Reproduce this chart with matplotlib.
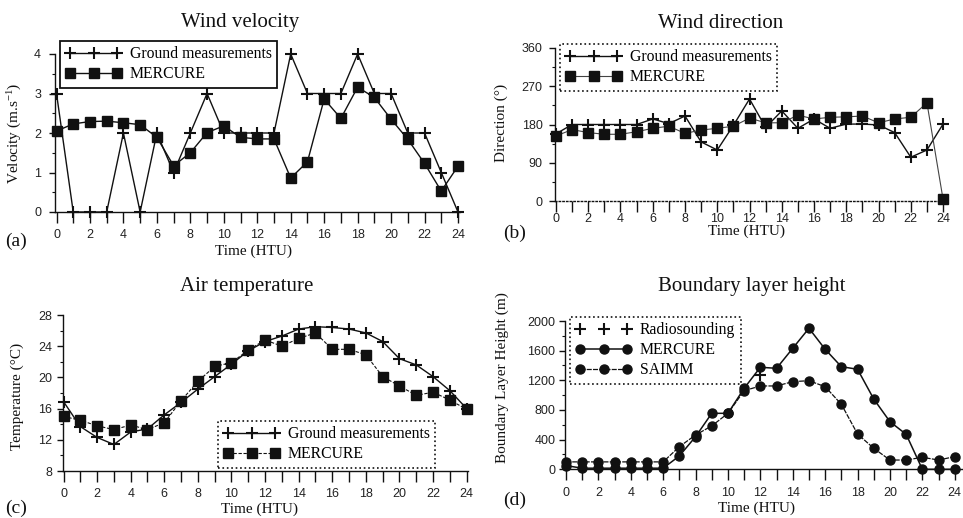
import matplotlib
matplotlib.use("Agg")
import matplotlib.pyplot as plt
from matplotlib.ticker import MultipleLocator, FuncFormatter

# ---- data -------------------------------------------------------------
hours = list(range(25))

vel_ground = [3, 0, 0, 0, 2, 0, 2, 1, 2, 3, 2, 2, 2, 2, 4, 3, 3, 3, 4, 3, 3, 2, 2, 1, 0]
vel_mercure = [2.05, 2.23, 2.29, 2.30, 2.26, 2.21, 1.89, 1.17, 1.50, 2.01, 2.18, 1.89, 1.85,
               1.85, 0.86, 1.27, 2.86, 2.37, 3.16, 2.90, 2.35, 1.84, 1.23, 0.53, 1.16]

dir_ground = [158, 180, 180, 180, 180, 180, 193, 182, 200, 139, 120, 178, 240, 173, 212,
              171, 193, 171, 181, 181, 179, 161, 103, 120, 181]
dir_mercure = [153, 168, 161, 157, 157, 163, 171, 176, 159, 167, 171, 176, 195, 184, 184,
               202, 193, 197, 198, 200, 184, 193, 197, 231, 4]

temp_ground = [16.9, 13.7, 12.3, 11.4, 13.0, 13.4, 15.2, 16.8, 18.5, 20.1, 21.7, 23.4, 24.6,
               25.3, 26.2, 26.5, 26.4, 26.2, 25.7, 24.6, 22.4, 21.6, 20.1, 18.3, 16.0]
temp_mercure = [15.0, 14.5, 13.8, 13.3, 13.9, 13.3, 14.2, 17.0, 19.5, 21.4, 21.9, 23.5, 24.8,
                24.0, 25.0, 25.7, 23.6, 23.6, 22.9, 20.1, 18.9, 17.7, 18.1, 17.1, 15.9]

blh_mercure = [50, 15, 15, 15, 15, 15, 15, 180, 440, 755, 755, 1093, 1376, 1362, 1632, 1902,
               1619, 1384, 1349, 948, 642, 472, 0, 0, 0]
blh_saimm = [100, 100, 100, 100, 100, 100, 100, 305, 463, 585, 755, 1060, 1124, 1124, 1182,
             1195, 1114, 877, 476, 283, 125, 125, 162, 125, 171]
rs_hours = [12]
rs_blh = [1270]

# ---- style ------------------------------------------------------------
W, H = 963, 518
SERIF = "Liberation Serif"
SANS = "Liberation Sans"
INK = "#111111"

plt.rcParams["mathtext.fontset"] = "custom"
plt.rcParams["mathtext.rm"] = SERIF
plt.rcParams["mathtext.it"] = SERIF + ":italic"
plt.rcParams["mathtext.default"] = "rm"

fig = plt.figure(figsize=(W / 100, H / 100), dpi=100)
fig.patch.set_facecolor("white")


def px_axes(left, right, top, bottom):
    return fig.add_axes([left / W, (H - bottom) / H, (right - left) / W, (bottom - top) / H])


def even_only(v, pos):
    iv = int(round(v))
    return str(iv) if iv % 2 == 0 else ""


def style_axes(ax, xlim, ylim, ymajor, yminor, xpad, ypad, bottom_ls="-"):
    ax.set_xlim(*xlim)
    ax.set_ylim(*ylim)
    for s in ("top", "right"):
        ax.spines[s].set_visible(False)
    for s in ("left", "bottom"):
        ax.spines[s].set_color(INK)
        ax.spines[s].set_linewidth(1.0)
    ax.spines["bottom"].set_linestyle(bottom_ls)
    ax.xaxis.set_major_locator(MultipleLocator(1))
    ax.xaxis.set_major_formatter(FuncFormatter(even_only))
    ax.yaxis.set_major_locator(MultipleLocator(ymajor))
    ax.yaxis.set_minor_locator(MultipleLocator(yminor))
    ax.tick_params(axis="x", which="major", direction="out", length=8, width=1.0,
                   color=INK, pad=xpad)
    ax.tick_params(axis="y", which="major", direction="out", length=4, width=1.0,
                   color=INK, pad=ypad)
    ax.tick_params(axis="y", which="minor", direction="out", length=2, width=0.8, color=INK)
    for lab in ax.get_xticklabels() + ax.get_yticklabels():
        lab.set_fontfamily(SANS)
        lab.set_fontsize(9)
        lab.set_color("#222222")


def set_labels(ax, xlabel, ylabel, xpos, ypos):
    ax.set_xlabel(xlabel, fontfamily=SERIF, fontsize=11, color=INK)
    ax.set_ylabel(ylabel, fontfamily=SERIF, fontsize=11, color=INK)
    ax.xaxis.set_label_coords(*xpos)
    ax.yaxis.set_label_coords(*ypos)
    ax.xaxis.label.set_va("center")
    ax.yaxis.label.set_va("center")


def legend(ax, anchor, dotted, **kw):
    leg = ax.legend(loc="upper left", bbox_to_anchor=(anchor[0] / W, 1 - anchor[1] / H),
                    bbox_transform=fig.transFigure, prop={"family": SERIF, "size": 11.3},
                    numpoints=3, handlelength=3.6, handletextpad=0.5, labelspacing=0.25,
                    borderpad=0.35, borderaxespad=0, fancybox=False, framealpha=1, **kw)
    fr = leg.get_frame()
    fr.set_edgecolor(INK)
    if dotted:
        fr.set_linestyle(":")
        fr.set_linewidth(1.2)
    else:
        fr.set_linewidth(1.3)
    return leg


plus_kw = dict(marker="+", markersize=8, markeredgewidth=1.5, color=INK, clip_on=False)
sq_kw = dict(marker="s", markersize=6.5, color=INK, markerfacecolor=INK, clip_on=False)
dot_kw = dict(marker="o", markersize=6.5, color=INK, markerfacecolor=INK, clip_on=False)

# ---- (a) wind velocity --------------------------------------------------
ax = px_axes(55, 460, 54, 212)
ax.plot(hours, vel_ground, lw=1.0, label="Ground measurements", **plus_kw)
ax.plot(hours, vel_mercure, lw=1.0, label="MERCURE", **sq_kw)
style_axes(ax, (-0.09, 24.12), (0, 4), 1, 0.5, xpad=4.5, ypad=6)
set_labels(ax, "Time (HTU)", "Velocity (m.s$^{-1}$)", (0.49, -0.25), (-0.1, 0.5))
legend(ax, (60, 41), dotted=False)
fig.text(240 / W, 1 - 23 / H, "Wind velocity", family=SERIF, fontsize=15,
         ha="center", va="center", color=INK)
fig.text(5 / W, 1 - 241 / H, "(a)", family=SERIF, fontsize=14, ha="left", va="center",
         color=INK)

# ---- (b) wind direction -------------------------------------------------
ax = px_axes(555, 945, 48, 201)
ax.plot(hours, dir_ground, lw=1.0, label="Ground measurements", **plus_kw)
ax.plot(hours, dir_mercure, lw=0.8, label="MERCURE", **sq_kw)
ax.lines[-1].set_color("#444444")
ax.lines[-1].set_markerfacecolor(INK)
ax.lines[-1].set_markeredgecolor(INK)
style_axes(ax, (-0.06, 24.12), (0, 360), 90, 45, xpad=1, ypad=5, bottom_ls=":")
set_labels(ax, "Time (HTU)", "Direction (°)", (0.49, -0.2), (-0.137, 0.51))
legend(ax, (560, 44), dotted=True)
fig.text(721 / W, 1 - 23 / H, "Wind direction", family=SERIF, fontsize=15,
         ha="center", va="center", color=INK)
fig.text(503 / W, 1 - 233 / H, "(b)", family=SERIF, fontsize=14, ha="left", va="center",
         color=INK)

# ---- (c) air temperature ------------------------------------------------
ax = px_axes(63, 468, 315, 471)
ax.plot(hours, temp_ground, lw=1.0, label="Ground measurements", **plus_kw)
ax.plot(hours, temp_mercure, lw=0.8, ls=(0, (3, 1.5)), label="MERCURE", **sq_kw)
style_axes(ax, (-0.03, 24.08), (8, 28), 4, 2, xpad=4, ypad=4)
set_labels(ax, "Time (HTU)", "Temperature (°C)", (0.485, -0.245), (-0.113, 0.48))
legend(ax, (218, 421), dotted=True)
fig.text(247 / W, 1 - 286 / H, "Air temperature", family=SERIF, fontsize=15,
         ha="center", va="center", color=INK)
fig.text(5 / W, 1 - 508 / H, "(c)", family=SERIF, fontsize=14, ha="left", va="center",
         color=INK)

# ---- (d) boundary layer height -----------------------------------------
ax = px_axes(565, 963, 321, 469.3)
ax.plot(rs_hours, rs_blh, ls="none", label="Radiosounding", **plus_kw)
ax.plot(hours, blh_mercure, lw=1.1, label="MERCURE", **dot_kw)
ax.plot(hours, blh_saimm, lw=0.9, ls=(0, (4, 1)), label="SAIMM", **dot_kw)
style_axes(ax, (-0.06, 24.51), (0, 2000), 400, 200, xpad=4.5, ypad=3)
set_labels(ax, "Time (HTU)", "Boundary Layer Height (m)", (0.48, -0.26), (-0.158, 0.62))
legend(ax, (570, 317), dotted=True)
fig.text(752 / W, 1 - 286 / H, "Boundary layer height", family=SERIF, fontsize=15,
         ha="center", va="center", color=INK)
fig.text(503 / W, 1 - 500 / H, "(d)", family=SERIF, fontsize=14, ha="left", va="center",
         color=INK)

fig.savefig("out.png", dpi=100, facecolor="white")
